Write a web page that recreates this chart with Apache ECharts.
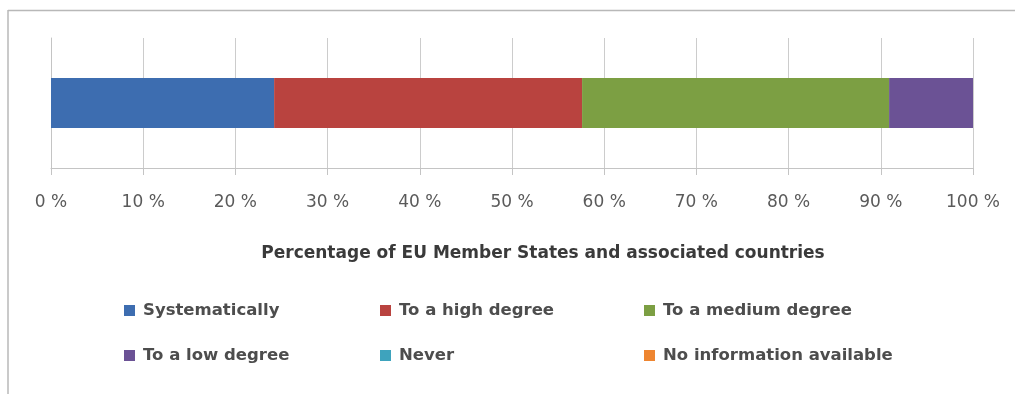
<!DOCTYPE html>
<html>
<head>
<meta charset="utf-8">
<script src="https://cdn.jsdelivr.net/npm/echarts@6/dist/echarts.min.js"></script>
<style>
  html, body { margin: 0; padding: 0; background: #fff; }
  #chart { width: 1015px; height: 394px; }
</style>
</head>
<body>
<div id="chart"></div>
<script>
// answer categories, share of countries (%)
const categories = ['Systematically', 'To a high degree', 'To a medium degree',
  'To a low degree', 'Never', 'No information available'];
const shares = [24.2, 33.4, 33.3, 9.1, 0, 0];
const colors = ['#3d6db0', '#b9433f', '#7c9f43', '#6b5295', '#3ea3bd', '#ee8530'];
const tickLabels = ['0 %', '10 %', '20 %', '30 %', '40 %', '50 %', '60 %', '70 %', '80 %', '90 %', '100 %'];

const font = '"DejaVu Sans", sans-serif';

// legend positions: 3 columns, 2 rows
const legendCols = [124, 380, 644];
const legendRows = [302, 347];

const chart = echarts.init(document.getElementById('chart'));

chart.setOption({
  animation: false,
  grid: { left: 51, right: 42, top: 38, bottom: 226 },
  title: {
    text: 'Percentage of EU Member States and associated countries',
    left: 543, top: 245, textAlign: 'center', padding: 0,
    textStyle: { fontFamily: font, fontSize: 17, fontWeight: 'bold', color: '#3a3a3a' }
  },
  legend: categories.map((c, i) => ({
    data: [c],
    left: legendCols[i % 3],
    top: legendRows[Math.floor(i / 3)],
    padding: 0,
    icon: 'rect', itemWidth: 11, itemHeight: 11, itemGap: 0,
    selectedMode: false,
    textStyle: { fontFamily: font, fontSize: 16.5, fontWeight: 'bold', color: '#4d4d4d', padding: [0, 0, 0, 3] }
  })),
  xAxis: {
    type: 'value', min: 0, max: 100, interval: 10,
    axisLine: { show: true, lineStyle: { color: '#c4c4c4' } },
    axisTick: { show: true, length: 7, lineStyle: { color: '#c4c4c4' } },
    splitLine: { show: true, lineStyle: { color: '#cccccc' } },
    axisLabel: {
      margin: 26, fontFamily: font, fontSize: 17, color: '#5a5a5a',
      formatter: v => tickLabels[v / 10]
    }
  },
  yAxis: {
    type: 'category', data: [''],
    axisLine: { show: true, lineStyle: { color: '#c4c4c4' } },
    axisTick: { show: false }, axisLabel: { show: false }
  },
  graphic: [
    { type: 'line', shape: { x1: 8, y1: 10.5, x2: 1015, y2: 10.5 }, style: { stroke: '#b8b8b8', lineWidth: 1.5 } },
    { type: 'line', shape: { x1: 8, y1: 10, x2: 8, y2: 394 }, style: { stroke: '#b8b8b8', lineWidth: 1.5 } }
  ],
  series: categories.map((c, i) => ({
    name: c, type: 'bar', stack: 'all', barWidth: 50,
    itemStyle: { color: colors[i] },
    data: [shares[i]]
  }))
});
</script>
</body>
</html>
